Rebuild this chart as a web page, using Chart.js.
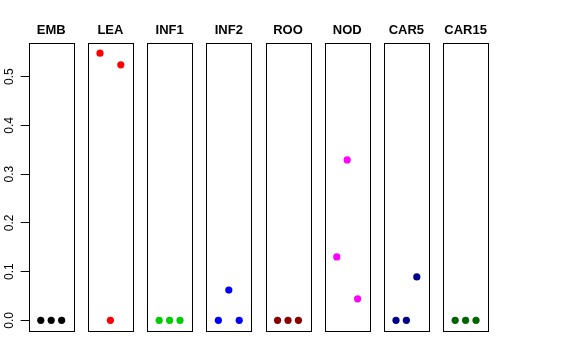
<!DOCTYPE html>
<html>
<head>
<meta charset="utf-8">
<script src="https://cdn.jsdelivr.net/npm/chart.js@4"></script>
<style>
html,body{margin:0;padding:0;background:#fff;}
#wrap{position:relative;width:576px;height:360px;}
#wrap canvas{position:absolute;left:0;top:0;}
</style>
</head>
<body>
<div id="wrap"></div>
<script>
// Data
const categories = ["EMB","LEA","INF1","INF2","ROO","NOD","CAR5","CAR15"];
const replicates = [1, 2, 3];
const valuesEMB   = [0, 0, 0];
const valuesLEA   = [0.548, 0, 0.524];
const valuesINF1  = [0, 0, 0];
const valuesINF2  = [0, 0.062, 0];
const valuesROO   = [0, 0, 0];
const valuesNOD   = [0.130, 0.329, 0.044];
const valuesCAR5  = [0, 0, 0.089];
const valuesCAR15 = [0, 0, 0];
const yTickValues = [0, 0.1, 0.2, 0.3, 0.4, 0.5];
const yTickLabels = ["0.0", "0.1", "0.2", "0.3", "0.4", "0.5"];

const seriesValues = [valuesEMB, valuesLEA, valuesINF1, valuesINF2, valuesROO, valuesNOD, valuesCAR5, valuesCAR15];
const colors = ["#000000","#FF0000","#00CD00","#0000FF","#8B0000","#FF00FF","#00008B","#006400"];

const W = 576, H = 360;
const panelLeft0 = 28.7, panelStep = 59.2, panelWidth = 45;
const areaBottom = 331;
const FONT = "'Liberation Sans', Arial, Helvetica, sans-serif";

const boxPlugin = {
  id: 'box',
  afterDraw(chart) {
    const a = chart.chartArea, ctx = chart.ctx;
    ctx.save();
    ctx.strokeStyle = '#000';
    ctx.lineWidth = 1;
    const l = Math.round(a.left) + 0.5, t = Math.round(a.top) + 0.5;
    const r = Math.round(a.right) + 0.5, b = Math.round(a.bottom) + 0.5;
    ctx.strokeRect(l, t, r - l, b - t);
    ctx.restore();
  }
};

const yLabelPlugin = {
  id: 'ylabels',
  afterDraw(chart) {
    if (!chart.options.plugins.ylabels || !chart.options.plugins.ylabels.show) return;
    const ctx = chart.ctx, ys = chart.scales.y;
    ctx.save();
    ctx.fillStyle = '#000';
    ctx.font = "12px " + FONT;
    ctx.textAlign = 'center';
    ctx.textBaseline = 'alphabetic';
    yTickValues.forEach((v, i) => {
      const py = ys.getPixelForValue(v);
      ctx.save();
      ctx.translate(12.5, py);
      ctx.rotate(-Math.PI / 2);
      ctx.fillText(yTickLabels[i], 0, 0);
      ctx.restore();
    });
    ctx.restore();
  }
};

const wrap = document.getElementById('wrap');
categories.forEach((cat, i) => {
  const cv = document.createElement('canvas');
  cv.width = W; cv.height = H;
  cv.style.width = W + 'px'; cv.style.height = H + 'px';
  wrap.appendChild(cv);
  const left = panelLeft0 + panelStep * i;
  const right = left + panelWidth;
  const first = i === 0;
  new Chart(cv, {
    type: 'scatter',
    data: {
      datasets: [{
        data: replicates.map((x, k) => ({x: x, y: seriesValues[i][k]})),
        backgroundColor: colors[i],
        borderWidth: 0,
        pointRadius: 3.6,
        pointHoverRadius: 3.6
      }]
    },
    options: {
      responsive: false,
      animation: false,
      events: [],
      layout: { padding: { left: first ? 0 : left, right: W - right, top: 0, bottom: H - areaBottom } },
      plugins: {
        legend: { display: false },
        tooltip: { enabled: false },
        title: {
          display: true,
          fullSize: false,
          text: cat,
          color: '#000',
          font: { family: FONT, size: 13, weight: 'bold', lineHeight: 1.2 },
          padding: { top: 23, bottom: 4.4 }
        },
        ylabels: { show: first }
      },
      scales: {
        x: { type: 'linear', min: -0.16, max: 4.16, display: false },
        y: {
          type: 'linear',
          min: -0.0219, max: 0.5688,
          display: first,
          afterFit: (s) => { s.width = first ? left : 0; },
          afterBuildTicks: (s) => { s.ticks = yTickValues.map(v => ({ value: v })); },
          border: { display: false },
          grid: { drawOnChartArea: false, drawTicks: true, tickLength: 8, color: '#000', lineWidth: 1 },
          ticks: { display: false }
        }
      }
    },
    plugins: [boxPlugin, yLabelPlugin]
  });
});
</script>
</body>
</html>
